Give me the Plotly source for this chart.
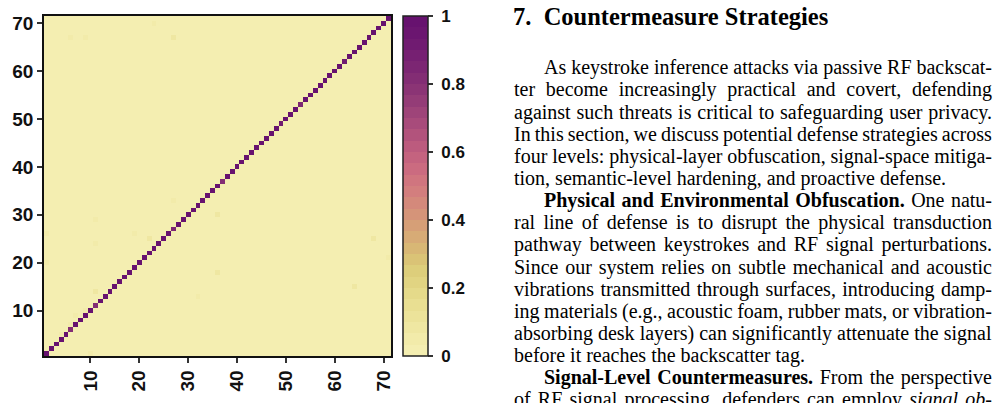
import numpy as np
import plotly.graph_objects as go

# ---------------- data ----------------
class_ids = list(range(1, 72))
x_tick_vals = [10, 20, 30, 40, 50, 60, 70]
y_tick_vals = [10, 20, 30, 40, 50, 60, 70]
cbar_tick_vals = [0, 0.2, 0.4, 0.6, 0.8, 1]
cbar_tick_text = ["0", "0.2", "0.4", "0.6", "0.8", "1"]

# diagonal (correct-classification rate) per class 1..71
diag_values = [
    1.00, 0.99, 0.99, 0.99, 0.99, 0.82, 0.99, 0.98, 0.99, 0.99,
    0.82, 0.99, 0.99, 0.98, 0.99, 0.99, 0.99, 0.99, 0.99, 0.99,
    0.99, 0.99, 0.99, 0.99, 0.98, 0.99, 0.85, 0.99, 0.99, 0.99,
    0.99, 0.99, 0.99, 0.99, 0.99, 0.99, 0.82, 0.99, 0.99, 0.99,
    0.99, 0.99, 0.99, 0.99, 0.99, 0.99, 0.99, 0.99, 0.93, 0.99,
    0.99, 0.99, 0.85, 0.99, 0.99, 0.99, 0.99, 0.99, 0.99, 0.99,
    0.99, 0.90, 0.99, 0.99, 0.99, 0.99, 0.99, 0.99, 0.99, 0.99,
    1.00,
]

# faint off-diagonal confusions (column class, row class, value)
off_x = [6, 9, 23, 27, 27, 11, 1, 19, 22, 11, 1, 11, 7, 9, 6, 4, 10, 32, 36, 36, 68, 64, 71]
off_y = [67, 67, 70, 67, 33, 29, 26, 26, 25, 24, 20, 14, 9, 10, 7, 5, 1, 13, 30, 18, 25, 15, 21]
off_v = [0.05, 0.06, 0.05, 0.07, 0.05, 0.05, 0.04, 0.05, 0.07, 0.05, 0.04, 0.07, 0.05, 0.05,
         0.06, 0.05, 0.05, 0.05, 0.07, 0.08, 0.07, 0.08, 0.05]

# 30-step palette of the colour key (bottom to top)
band_colors = [
    "#F4EEB1", "#F2EBAA", "#EFE7A2", "#ECE39A", "#E9DF92", "#E5DA8A",
    "#E1D482", "#DDCE7B", "#DAC376", "#D8B775", "#D7AB76", "#D69F77",
    "#D59479", "#D4897B", "#D37E7E", "#D0757F", "#CB6B80", "#C4637F",
    "#BC5B7E", "#B2537C", "#A84B7B", "#9E4479", "#943C77", "#8B3475",
    "#832D74", "#7C2673", "#762072", "#701B71", "#6B1670", "#67126F",
]

# text column on the right
heading = "7.  Countermeasure Strategies"
body_lines = [
    "As keystroke inference attacks via passive RF backscat-",
    "ter become increasingly practical and covert, defending",
    "against such threats is critical to safeguarding user privacy.",
    "In this section, we discuss potential defense strategies across",
    "four levels: physical-layer obfuscation, signal-space mitiga-",
    "tion, semantic-level hardening, and proactive defense.",
    "<b>Physical and Environmental Obfuscation.</b> One natu-",
    "ral line of defense is to disrupt the physical transduction",
    "pathway between keystrokes and RF signal perturbations.",
    "Since our system relies on subtle mechanical and acoustic",
    "vibrations transmitted through surfaces, introducing damp-",
    "ing materials (e.g., acoustic foam, rubber mats, or vibration-",
    "absorbing desk layers) can significantly attenuate the signal",
    "before it reaches the backscatter tag.",
    "<b>Signal-Level Countermeasures.</b> From the perspective",
    "of RF signal processing, defenders can employ <i>signal ob-</i>",
]
indented_lines = [0, 6, 14]
paragraph_end_lines = [5, 13]

# ---------------- build matrix ----------------
n = len(class_ids)
z = np.zeros((n, n))
for i, v in enumerate(diag_values):
    z[i, i] = v
for cx, cy, v in zip(off_x, off_y, off_v):
    z[cy - 1, cx - 1] = v

nb = len(band_colors)
colorscale = []
for k, c in enumerate(band_colors):
    colorscale.append([k / nb, c])
    colorscale.append([(k + 1) / nb, c])

# ---------------- figure ----------------
W, H = 1006, 403
L, R, T, B = 39, 391, 16, 357
NBSP = "\u00a0"

fig = go.Figure()
fig.add_trace(go.Heatmap(
    x=class_ids, y=class_ids, z=z,
    zmin=0, zmax=1, colorscale=colorscale,
    colorbar=dict(
        thickness=25, len=1, lenmode="fraction", y=0.5, yanchor="middle",
        x=(403 - L) / (R - L), xanchor="left", xpad=0, ypad=0,
        outlinewidth=1.5, outlinecolor="#222",
        tickvals=cbar_tick_vals, ticktext=[NBSP + t for t in cbar_tick_text],
        ticks="outside", ticklen=5, tickwidth=1.5, tickcolor="#333",
        tickfont=dict(family="Liberation Sans, Arial", size=17, color="#111", weight="bold"),
    ),
    hoverinfo="skip",
))

axis_common = dict(
    showgrid=False, zeroline=False, showline=True, mirror=True,
    linecolor="#111", linewidth=1.5,
    ticks="outside", ticklen=5, tickwidth=1.5, tickcolor="#333",
    tickfont=dict(family="Liberation Sans, Arial", size=19, color="#111", weight="bold"),
)
fig.update_xaxes(range=[0.5, 71.5], tickvals=x_tick_vals, tickangle=-90, **axis_common)
fig.update_yaxes(range=[0.5, 71.5], tickvals=y_tick_vals, **axis_common)


def px_to_paper(px, py):
    return (px - L) / (R - L), (B - py) / (B - T)


annotations = []
hx, hy = px_to_paper(513, 17)
annotations.append(dict(
    x=hx, y=hy, xref="paper", yref="paper", xanchor="left", yanchor="middle", align="left",
    text="<b>" + heading + "</b>", showarrow=False,
    font=dict(family="Liberation Serif, Times New Roman", size=24.5, color="#000"),
))
first_y, spacing = 68, 22.2
for i, line in enumerate(body_lines):
    x0 = 544 if i in indented_lines else 514
    ax, ay = px_to_paper(x0, first_y + i * spacing)
    annotations.append(dict(
        x=ax, y=ay, xref="paper", yref="paper", xanchor="left", yanchor="middle", align="left",
        text=line, showarrow=False,
        font=dict(family="Liberation Serif, Times New Roman", size=20, color="#000"),
    ))

fig.update_layout(
    width=W, height=H,
    margin=dict(l=L, r=W - R, t=T, b=H - B, pad=0),
    paper_bgcolor="white", plot_bgcolor="white",
    annotations=annotations,
)

# justify the body text lines to the right column edge (x = 1000 px)
justify_idx = [i + 1 for i in range(len(body_lines)) if i not in paragraph_end_lines]
post_js = """
var gd = document.getElementById('{plot_id}');
var justify = %s;
justify.forEach(function(idx) {
  var g = gd.querySelector('g.annotation[data-index="' + idx + '"]');
  if (!g) return;
  var t = g.querySelector('text.annotation-text');
  if (!t) return;
  var nsp = (t.textContent.match(/ /g) || []).length;
  if (!nsp) return;
  var r = t.getBoundingClientRect();
  var ws = (1000 - r.right) / nsp;
  t.style.wordSpacing = ws + 'px';
});
""" % str(justify_idx)

fig.write_html("out.html", post_script=post_js)
